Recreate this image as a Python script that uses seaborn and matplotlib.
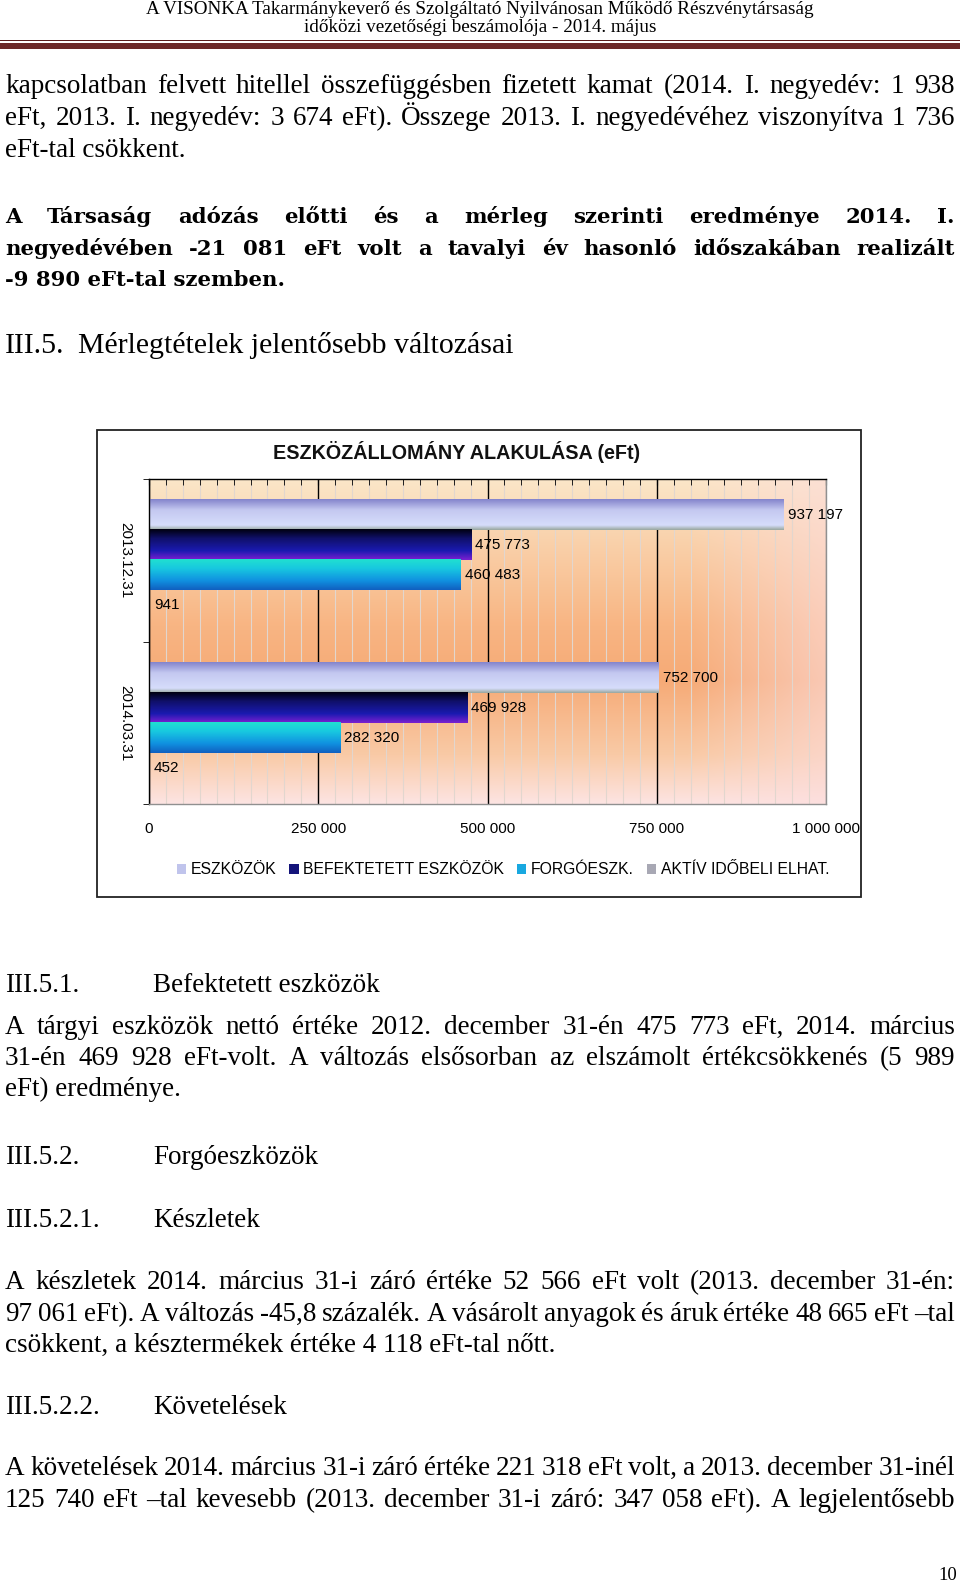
import matplotlib

matplotlib.use("Agg")
import matplotlib.pyplot as plt
import numpy as np
import pandas as pd
import seaborn as sns
from matplotlib.colors import to_rgb
from matplotlib.patches import Patch, Rectangle
from matplotlib.ticker import MultipleLocator

# chart data (eFt)
dates = ["2013.12.31", "2014.03.31"]
items = ["ESZKÖZÖK", "BEFEKTETETT ESZKÖZÖK", "FORGÓESZK.", "AKTÍV IDŐBELI ELHAT."]
values_2013 = [937197, 475773, 460483, 941]
values_2014 = [752700, 469928, 282320, 452]
x_ticks = [0, 250000, 500000, 750000, 1000000]
x_tick_labels = ["0", "250 000", "500 000", "750 000", "1 000 000"]

solid_colors = ["#c0c4ec", "#14147a", "#18a8e0", "#a8a8b4"]
bar_gradients = [
    [(0.0, "#8484cc"), (0.35, "#c4c8f0"), (0.85, "#d6ddfb"), (1.0, "#9aa8a0")],
    [(0.0, "#000010"), (0.3, "#10106a"), (0.7, "#1a1ab0"), (1.0, "#7a20d0")],
    [(0.0, "#20e0d0"), (0.3, "#18c8e0"), (0.7, "#1090e0"), (1.0, "#1060c0")],
    [(0.0, "#9090a0"), (1.0, "#d0d0d8")],
]

# page text
header_lines = [
    "A VISONKA Takarmánykeverő és Szolgáltató Nyilvánosan Működő Részvénytársaság",
    "időközi vezetőségi beszámolója - 2014. május",
]
para_interest = [
    "kapcsolatban felvett hitellel összefüggésben fizetett kamat (2014. I. negyedév: 1 938",
    "eFt, 2013. I. negyedév: 3 674 eFt). Összege 2013. I. negyedévéhez viszonyítva 1 736",
    "eFt-tal csökkent.",
]
para_result = [
    "A Társaság adózás előtti és a mérleg szerinti eredménye 2014. I.",
    "negyedévében -21 081 eFt volt a tavalyi év hasonló időszakában realizált",
    "-9 890 eFt-tal szemben.",
]
para_fixed = [
    "A tárgyi eszközök nettó értéke 2012. december 31-én 475 773 eFt, 2014. március",
    "31-én 469 928 eFt-volt. A változás elsősorban az elszámolt értékcsökkenés (5 989",
    "eFt) eredménye.",
]
para_stock = [
    "A készletek 2014. március 31-i záró értéke 52 566 eFt volt (2013. december 31-én:",
    "97 061 eFt). A változás -45,8 százalék. A vásárolt anyagok és áruk értéke 48 665 eFt –tal",
    "csökkent, a késztermékek értéke 4 118 eFt-tal nőtt.",
]
para_claims = [
    "A követelések 2014. március 31-i záró értéke 221 318 eFt volt, a 2013. december 31-inél",
    "125 740 eFt –tal kevesebb (2013. december 31-i záró: 347 058 eFt). A legjelentősebb",
]

W, H = 960, 1584
SERIF = "Liberation Serif"
SANS = "Liberation Sans"
BODY_SIZE = 19.5


def fx(px):
    return px / W


def fy(py):
    return 1 - py / H


def gradient_column(stops, n=64):
    pos = [p for p, _ in stops]
    rgb = np.array([to_rgb(c) for _, c in stops])
    t = np.linspace(0, 1, n)
    col = np.stack([np.interp(t, pos, rgb[:, k]) for k in range(3)], axis=-1)
    return col[:, None, :]


def write_line(fig, text, y, justify=False, x0=5, x1=955, **kw):
    kw.setdefault("family", SERIF)
    kw.setdefault("fontsize", BODY_SIZE)
    # y is the visual middle of the line; put every word on one common baseline
    base = fy(y + 0.34 * kw["fontsize"] * 100 / 72)
    if not justify:
        fig.text(fx(x0), base, text, va="baseline", **kw)
        return
    renderer = fig.canvas.get_renderer()
    words = text.split()
    objs = [fig.text(0, base, w, va="baseline", **kw) for w in words]
    widths = [o.get_window_extent(renderer).width for o in objs]
    gap = (x1 - x0 - sum(widths)) / (len(words) - 1)
    x = x0
    for o, w in zip(objs, widths):
        o.set_x(fx(x))
        x += w + gap


def write_paragraph(fig, lines, ys, last_justified=False, **kw):
    for i, (line, y) in enumerate(zip(lines, ys)):
        justify = last_justified or i < len(lines) - 1
        write_line(fig, line, y, justify=justify, **kw)


fig = plt.figure(figsize=(9.6, 15.84), dpi=100)
fig.patch.set_facecolor("white")

# header
fig.text(0.5, fy(14), header_lines[0], ha="center", va="baseline", family=SERIF, fontsize=13.8)
fig.text(0.5, fy(32), header_lines[1], ha="center", va="baseline", family=SERIF, fontsize=13.8)
fig.add_artist(Rectangle((0, fy(41)), 1, 1.2 / H, transform=fig.transFigure, color="#5a1e1e", lw=0))
fig.add_artist(Rectangle((0, fy(48.5)), 1, 6 / H, transform=fig.transFigure, color="#6b2828", lw=0))

write_paragraph(fig, para_interest, [84, 116, 147.5])
write_paragraph(fig, para_result, [216, 247.5, 279], family="DejaVu Serif",
                fontweight="bold", fontsize=15.3)
write_line(fig, "III.5.", 342.5, fontsize=21.5)
write_line(fig, "Mérlegtételek jelentősebb változásai", 342.5, x0=78, fontsize=21.5)

write_line(fig, "III.5.1.", 983)
write_line(fig, "Befektetett eszközök", 983, x0=153)
write_paragraph(fig, para_fixed, [1024.5, 1056, 1087])
write_line(fig, "III.5.2.", 1155)
write_line(fig, "Forgóeszközök", 1155, x0=153)
write_line(fig, "III.5.2.1.", 1217.5)
write_line(fig, "Készletek", 1217.5, x0=153)
write_paragraph(fig, para_stock, [1280, 1311.6, 1343])
write_line(fig, "III.5.2.2.", 1404.6)
write_line(fig, "Követelések", 1404.6, x0=153)
write_paragraph(fig, para_claims, [1466, 1497.6], last_justified=True)
fig.text(fx(957), fy(1573), "10", ha="right", va="center_baseline", family=SERIF, fontsize=13.5)

# chart frame and title
fig.add_artist(Rectangle((fx(97), fy(897)), fx(861) - fx(97), fy(430) - fy(897),
                         transform=fig.transFigure, fill=False, ec="#222222", lw=1.3))
fig.text(fx(457), fy(452), "ESZKÖZÁLLOMÁNY ALAKULÁSA (eFt)", ha="center", va="center",
         family=SANS, fontweight="bold", fontsize=14.2, color="#111111")

ax = fig.add_axes([fx(149), fy(804), (826 - 149) / W, (804 - 479) / H])

df = pd.DataFrame({
    "date": [d for d in dates for _ in items],
    "item": items * len(dates),
    "value": values_2013 + values_2014,
})
sns.barplot(data=df, x="value", y="date", hue="item", hue_order=items, order=dates,
            orient="h", palette=solid_colors, saturation=1, width=0.74,
            legend=False, ax=ax, zorder=2)

ax.set_xlim(0, 1000000)
ax.set_ylim(1.5, -0.5)

# plot-area background
rows, cols = 200, 120
v_stops = [(0.0, "#fbe6c8"), (0.45, "#f8b583"), (0.62, "#f6aa76"), (0.85, "#f9caa6"), (1.0, "#fde4e2")]
vert = gradient_column(v_stops, rows)[:, 0, :]
pink = np.array(to_rgb("#fcdcdc"))
wgt = np.clip((np.linspace(0, 1, cols) - 0.8) / 0.2, 0, 1) * 0.6
bg = vert[:, None, :] * (1 - wgt[None, :, None]) + pink[None, None, :] * wgt[None, :, None]
ax.imshow(bg, extent=(0, 1, 0, 1), transform=ax.transAxes, aspect="auto",
          zorder=0, interpolation="bilinear")

# gradient fill on each bar
for container, stops in zip(ax.containers, bar_gradients):
    grad = gradient_column(stops)
    for bar in container:
        x0, y0 = bar.get_x(), bar.get_y()
        w, h = bar.get_width(), bar.get_height()
        ax.imshow(grad, extent=(x0, x0 + w, y0 + h, y0), aspect="auto",
                  zorder=2.1, interpolation="bilinear")

for container in ax.containers:
    labels = [f"{v:,.0f}".replace(",", " ") for v in container.datavalues]
    ax.bar_label(container, labels=labels, padding=3, fontsize=11, family=SANS, zorder=3)

ax.set_xlim(0, 1000000)
ax.set_ylim(1.5, -0.5)

ax.set_xticks(x_ticks)
ax.set_xticklabels(x_tick_labels, family=SANS, fontsize=11)
ax.xaxis.set_minor_locator(MultipleLocator(25000))
ax.tick_params(axis="x", which="both", bottom=False, top=True, direction="in",
               length=4, color="black", pad=13)
ax.set_yticks([0, 1])
ax.set_yticklabels(dates, rotation=-90, va="center", family=SANS, fontsize=11)
ax.set_yticks([-0.5, 0.5, 1.5], minor=True)
ax.tick_params(axis="y", which="major", length=0, pad=12)
ax.tick_params(axis="y", which="minor", length=4, direction="out", color="black")

ax.set_axisbelow(True)
ax.grid(which="minor", axis="x", color="#e2d6ce", lw=0.8, zorder=1)
ax.grid(which="major", axis="x", color="black", lw=1.0, zorder=1)
ax.xaxis.get_gridlines()[-1].set_color("#909090")
ax.set_xlabel("")
ax.set_ylabel("")
for side in ["left", "top"]:
    ax.spines[side].set_color("black")
    ax.spines[side].set_linewidth(1.0)
for side in ["right", "bottom"]:
    ax.spines[side].set_color("#909090")
    ax.spines[side].set_linewidth(1.0)

handles = [Patch(facecolor=c, edgecolor="none") for c in solid_colors]
fig.legend(handles, items, loc="center", bbox_to_anchor=(fx(503), fy(870)), ncol=4,
           frameon=False, prop={"family": SANS, "size": 11.3}, handlelength=0.6,
           handleheight=0.6, handletextpad=0.3, columnspacing=0.8)

fig.savefig("out.png", dpi=100)
